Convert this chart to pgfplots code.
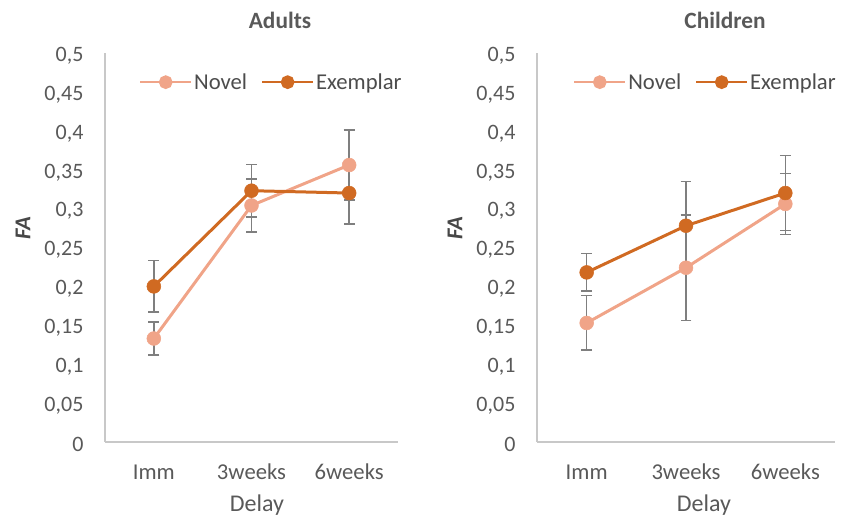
\documentclass[border=0pt]{standalone}
\usepackage{fontspec}
\setmainfont{Carlito}
\usepackage{pgfplots}
\usepackage{pgfplotstable}
\pgfplotsset{compat=1.18}
\definecolor{novel}{HTML}{F0A488}
\definecolor{exemplar}{HTML}{D06A22}
\definecolor{errgray}{HTML}{7F7F7F}
\definecolor{txt}{HTML}{595959}
\definecolor{axgray}{HTML}{C8C8C8}

\pgfplotstableread{
x y e
0 0.133 0.021
1 0.304 0.034
2 0.356 0.045
}\adultsnovel
\pgfplotstableread{
x y e
0 0.200 0.033
1 0.323 0.034
2 0.320 0.040
}\adultsexemplar
\pgfplotstableread{
x y e
0 0.153 0.035
1 0.224 0.068
2 0.306 0.039
}\childrennovel
\pgfplotstableread{
x y e
0 0.218 0.024
1 0.278 0.057
2 0.320 0.048
}\childrenexemplar

\pgfplotsset{
  panel/.style={
    scale only axis, height=291.75pt, anchor=south west,
    xmin=-0.5, xmax=2.5, ymin=0, ymax=0.5,
    axis x line*=bottom, axis y line*=left,
    axis line style={axgray, line width=0.9pt, -},
    major tick length=0pt,
    xtick={0,1,2}, xticklabels={Imm,3weeks,6weeks},
    ytick={0,0.05,0.1,0.15,0.2,0.25,0.3,0.35,0.4,0.45,0.5},
    yticklabels={0,{0,05},{0,1},{0,15},{0,2},{0,25},{0,3},{0,35},{0,4},{0,45},{0,5}},
    ticklabel style={text=txt, inner sep=0pt},
    xticklabel style={font=\fontsize{17}{20}\selectfont, anchor=base, yshift=-28.5pt},
    yticklabel style={font=\fontsize{16.5}{19}\selectfont, anchor=east, xshift=-16pt, yshift=-2pt},
    clip=false,
    legend columns=2,
    legend cell align=left,
    legend style={draw=none, fill=none, anchor=west, inner sep=0pt,
      font=\fontsize{17}{20}\selectfont, text=txt!85!black,
      nodes={inner xsep=1.5pt, inner ysep=2pt},
      /tikz/every even column/.append style={column sep=9pt}},
    legend image code/.code={%
      \draw[##1, line width=1.7pt] (0pt,0pt) -- (38pt,0pt);
      \fill[##1] (19pt,0pt) circle[radius=4pt];},
  },
  err/.style={forget plot, only marks, mark=none,
    error bars/.cd, y dir=both, y explicit,
    error bar style={color=errgray, line width=1.1pt},
    error mark options={rotate=90, color=errgray, mark size=4.1pt, line width=1.1pt}},
  ser/.style={color=#1, line width=2.25pt, mark=*, mark size=5.2pt,
    mark options={solid, fill=#1, draw=#1, line width=0.4pt}},
}

\begin{document}
\begin{tikzpicture}
\useasboundingbox (0,0) rectangle (632.25pt,387.75pt);

\begin{axis}[panel, width=219.75pt, at={(78.75pt,56.25pt)},
  legend style={at={(axis description cs:0.116,0.925)}}]
\addplot[err] table[x=x,y=y,y error=e] {\adultsnovel};
\addplot[err] table[x=x,y=y,y error=e] {\adultsexemplar};
\addplot[ser=novel] table[x=x,y=y] {\adultsnovel};
\addplot[ser=exemplar] table[x=x,y=y] {\adultsexemplar};
\legend{Novel,Exemplar}
\end{axis}

\begin{axis}[panel, width=223.5pt, at={(402.75pt,56.25pt)},
  legend style={at={(axis description cs:0.121,0.925)}}]
\addplot[err] table[x=x,y=y,y error=e] {\childrennovel};
\addplot[err] table[x=x,y=y,y error=e] {\childrenexemplar};
\addplot[ser=novel] table[x=x,y=y] {\childrennovel};
\addplot[ser=exemplar] table[x=x,y=y] {\childrenexemplar};
\legend{Novel,Exemplar}
\end{axis}

\node[font=\fontsize{17.5}{20}\selectfont\bfseries, text=txt] at (210pt,372.75pt) {Adults};
\node[font=\fontsize{17.5}{20}\selectfont\bfseries, text=txt] at (543.75pt,372.75pt) {Children};
\node[font=\fontsize{18}{21}\selectfont, text=txt, anchor=base, inner sep=0pt] at (192.75pt,3.75pt) {Delay};
\node[font=\fontsize{18}{21}\selectfont, text=txt, anchor=base, inner sep=0pt] at (528pt,3.75pt) {Delay};
\node[font=\fontsize{17}{20}\selectfont\bfseries\itshape, text=txt!80!black, rotate=90] at (17.25pt,216.75pt) {FA};
\node[font=\fontsize{17}{20}\selectfont\bfseries\itshape, text=txt!80!black, rotate=90] at (341.25pt,216.75pt) {FA};
\end{tikzpicture}
\end{document}
